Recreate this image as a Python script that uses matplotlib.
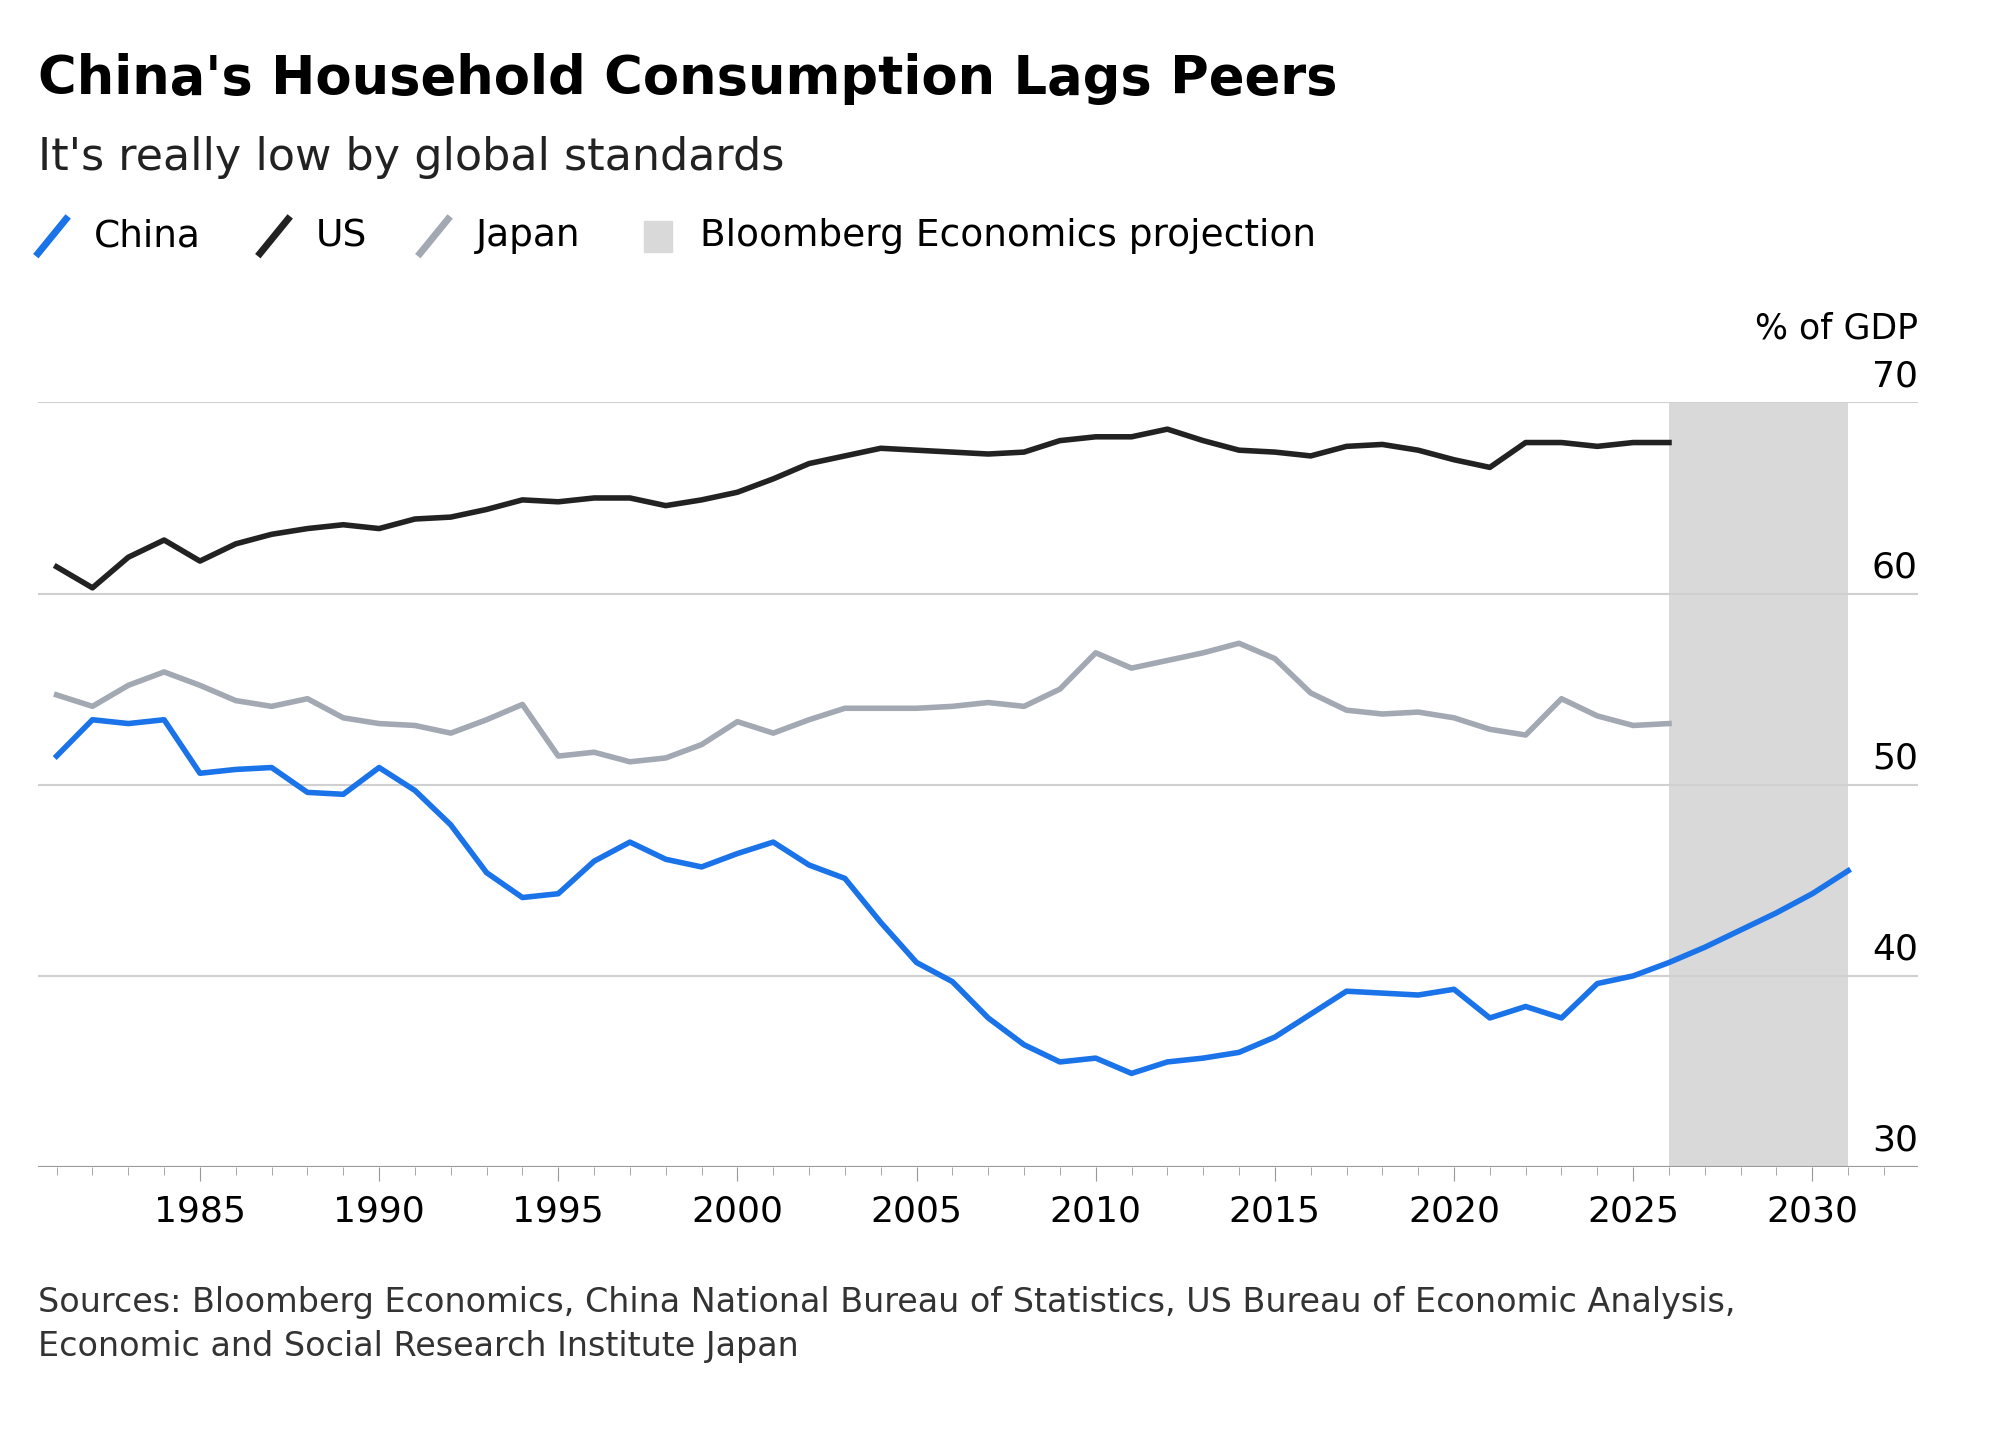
import matplotlib
matplotlib.use("Agg")
import matplotlib.pyplot as plt
import numpy as np

years = list(range(1981, 2032))
china = [51.5,53.4,53.2,53.4,50.6,50.8,50.9,49.6,49.5,50.9,49.7,47.9,45.4,44.1,44.3,46.0,47.0,46.1,45.7,46.4,
         47.0,45.8,45.1,42.8,40.7,39.7,37.8,36.4,35.5,35.7,34.9,35.5,35.7,36.0,36.8,38.0,39.2,39.1,39.0,39.3,
         37.8,38.4,37.8,39.6,40.0,40.7,41.5,42.4,43.3,44.3,45.5]
us_years = list(range(1981, 2027))
us = [61.4,60.3,61.9,62.8,61.7,62.6,63.1,63.4,63.6,63.4,63.9,64.0,64.4,64.9,64.8,65.0,65.0,64.6,64.9,65.3,
      66.0,66.8,67.2,67.6,67.5,67.4,67.3,67.4,68.0,68.2,68.2,68.6,68.0,67.5,67.4,67.2,67.7,67.8,67.5,67.0,
      66.6,67.9,67.9,67.7,67.9,67.9]
japan = [54.7,54.1,55.2,55.9,55.2,54.4,54.1,54.5,53.5,53.2,53.1,52.7,53.4,54.2,51.5,51.7,51.2,51.4,52.1,53.3,
         52.7,53.4,54.0,54.0,54.0,54.1,54.3,54.1,55.0,56.9,56.1,56.5,56.9,57.4,56.6,54.8,53.9,53.7,53.8,53.5,
         52.9,52.6,54.5,53.6,53.1,53.2]
proj_start, proj_end = 2026, 2031
yticks = [30, 40, 50, 60, 70]
xticks = [1985, 1990, 1995, 2000, 2005, 2010, 2015, 2020, 2025, 2030]

fig = plt.figure(figsize=(20, 14.32), dpi=100)
ax = fig.add_axes([0.019, 0.185, 0.94, 0.534])
ax.axvspan(proj_start, proj_end, color="#d9d9d9", zorder=0, lw=0)
for y in yticks:
    ax.axhline(y, color="#d0d0d0", lw=1.5, zorder=1)
ax.plot(us_years, us, color="#222222", lw=4, zorder=3)
ax.plot(us_years, japan, color="#a3a9b3", lw=4, zorder=3)
ax.plot(years, china, color="#1a73e8", lw=4, zorder=4)
ax.set_xlim(1980.48, 2032.95)
ax.set_ylim(30, 70)
for s in ax.spines.values():
    s.set_visible(False)
ax.set_yticks([])
ax.set_xticks(xticks)
ax.set_xticks(range(1981, 2033), minor=True)
ax.tick_params(axis="x", which="both", length=6, color="#999999", labelsize=26, pad=10)
ax.tick_params(axis="x", which="major", length=10)
ax.axhline(30, color="#999999", lw=1.5)
for y in yticks:
    ax.text(1.0, (y - 30) / 40 + 0.012, str(y), transform=ax.transAxes, ha="right", va="bottom", fontsize=26)
ax.text(1.0, 1.075, "% of GDP", transform=ax.transAxes, ha="right", va="bottom", fontsize=25)

fig.text(0.019, 0.945, "China's Household Consumption Lags Peers", fontsize=38, fontweight="bold", va="center")
fig.text(0.019, 0.890, "It's really low by global standards", fontsize=32, va="center", color="#222222")
ly = 0.835
items = [("China", "#1a73e8", "line", 0.019), ("US", "#222222", "line", 0.130),
         ("Japan", "#a3a9b3", "line", 0.210), ("Bloomberg Economics projection", "#d9d9d9", "box", 0.322)]
for label, c, kind, x in items:
    if kind == "line":
        fig.lines.append(plt.Line2D([x, x + 0.014], [ly - 0.012, ly + 0.012], color=c, lw=5, transform=fig.transFigure))
    else:
        fig.patches.append(plt.Rectangle((x, ly - 0.011), 0.014, 0.022, color=c, transform=fig.transFigure))
    fig.text(x + 0.028, ly, label, fontsize=27, va="center")

fig.text(0.019, 0.075, "Sources: Bloomberg Economics, China National Bureau of Statistics, US Bureau of Economic Analysis,\nEconomic and Social Research Institute Japan",
         fontsize=24, va="center", color="#333333", linespacing=1.4)
fig.savefig("out.png", dpi=100, facecolor="white")
